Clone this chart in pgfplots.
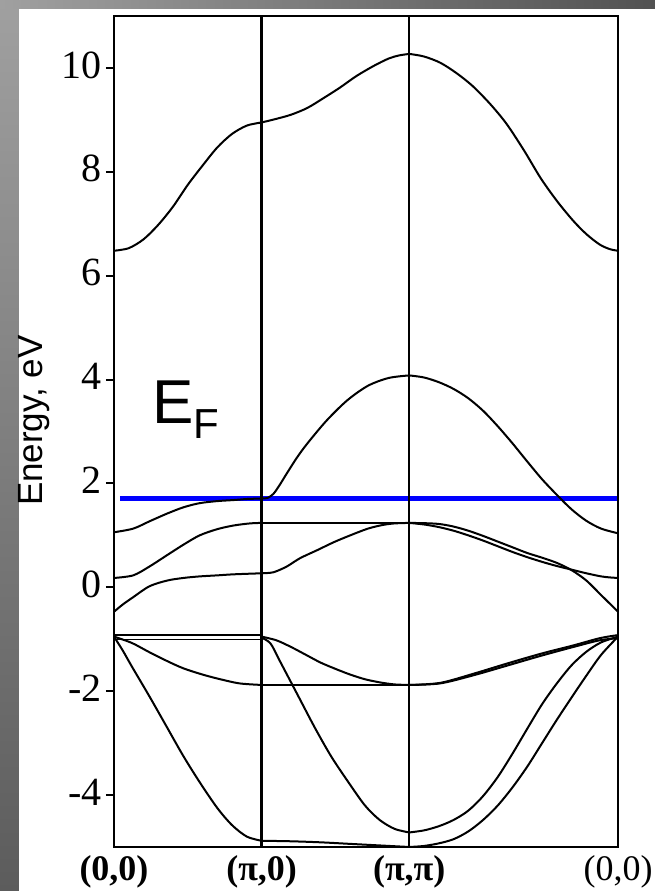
\documentclass[border=0pt]{standalone}
\usepackage{fontspec}
\setmainfont{Liberation Serif}
\newfontfamily\arialfont{Liberation Sans}
\usepackage{pgfplots}
\pgfplotsset{compat=1.18}

\definecolor{bgTL}{RGB}{160,160,160}
\definecolor{bgBL}{RGB}{92,92,92}
\definecolor{bgTR}{RGB}{82,82,82}

\begin{document}
\begin{tikzpicture}
% slide background with gray frame
\fill[white] (-114pt,-44pt) rectangle (541pt,847pt);
\shade[top color=bgTL,bottom color=bgBL] (-114pt,-44pt) rectangle (-95pt,847pt);
\shade[left color=bgTL,right color=bgTR] (-114pt,838.5pt) rectangle (541pt,847pt);

\begin{axis}[
  at={(0pt,0pt)}, anchor=south west,
  scale only axis, width=504pt, height=831pt,
  xmin=0, xmax=3.4142, ymin=-5, ymax=11,
  axis on top,
  axis line style={line width=2.4pt},
  xtick={0,1,2,3.4142},
  xticklabels={{\textbf{(0,0)}},{\textbf{(π,0)}},{\textbf{(π,π)}},{(0,0)}},
  xmajorgrids,
  major x grid style={black,line width=2.4pt},
  x tick style={draw=none},
  ytick={-4,-2,0,2,4,6,8,10},
  yticklabels={{-4},{-2},{0},{2},{4},{6},{8},{10}},
  tick align=outside,
  y tick style={line width=2pt,black},
  major tick length=8pt,
  ytick pos=left, xtick pos=bottom,
  yticklabel style={font=\fontsize{40}{40}\selectfont, inner sep=0pt, xshift=-4pt, yshift=3pt},
  xticklabel style={font=\fontsize{36}{36}\selectfont, inner sep=0pt, yshift=0pt},
  ylabel={Energy, eV},
  ylabel style={font=\arialfont\fontsize{35}{35}\selectfont, at={(axis description cs:-0.159,0.513)}, anchor=center},
  cycle list={{black, mark=none}},
  every axis plot/.append style={black, mark=none, line width=2pt, line join=round, smooth},
]

% Fermi level
\addplot[blue, line width=5pt, sharp plot] coordinates {(0.04,1.715) (3.4142,1.715)};

% upper band
\addplot coordinates {(0,6.48) (0.1,6.53) (0.2,6.7) (0.3,6.98) (0.4,7.33) (0.5,7.75) (0.6,8.12) (0.7,8.47) (0.8,8.73) (0.9,8.89) (1,8.95)};
\addplot coordinates {(1,8.95) (1.1,9.02) (1.2,9.10) (1.31,9.23) (1.42,9.42) (1.53,9.62) (1.64,9.84) (1.76,10.04) (1.86,10.18) (1.93,10.24) (2,10.27)};
\addplot coordinates {(2,10.27) (2.1,10.22) (2.21,10.1) (2.32,9.9) (2.43,9.65) (2.55,9.3) (2.66,8.92) (2.78,8.4) (2.89,7.88) (3.0,7.44) (3.11,7.06) (3.2,6.8) (3.29,6.6) (3.36,6.51) (3.4142,6.48)};

% band crossing the Fermi level
\addplot coordinates {(0,1.06) (0.13,1.13) (0.24,1.27) (0.36,1.42) (0.47,1.54) (0.58,1.62) (0.70,1.66) (0.81,1.68) (0.9,1.70) (1,1.71)};
\addplot coordinates {(1,1.71) (1.04,1.72) (1.08,1.80) (1.12,1.96) (1.17,2.19) (1.24,2.50) (1.31,2.77) (1.44,3.21) (1.58,3.60) (1.72,3.88) (1.86,4.03) (2,4.08)};
\addplot coordinates {(2,4.08) (2.1,4.04) (2.2,3.95) (2.3,3.82) (2.4,3.64) (2.5,3.4) (2.6,3.1) (2.7,2.77) (2.8,2.42) (2.9,2.08) (3.0,1.78) (3.1,1.5) (3.2,1.28) (3.3,1.13) (3.4142,1.04)};

% bands near 1 eV
\addplot coordinates {(0,0.18) (0.13,0.23) (0.24,0.40) (0.36,0.62) (0.47,0.82) (0.58,1.0) (0.70,1.12) (0.81,1.19) (0.92,1.23) (1,1.24)};
\addplot[sharp plot] coordinates {(1,1.24) (2,1.24)};
\addplot coordinates {(2,1.24) (2.1,1.235) (2.2,1.22) (2.3,1.17) (2.4,1.09) (2.5,0.99) (2.6,0.88) (2.7,0.77) (2.8,0.66) (2.9,0.57) (3.0,0.47) (3.1,0.33) (3.2,0.13) (3.3,-0.15) (3.4142,-0.47)};

\addplot coordinates {(0,-0.47) (0.06,-0.33) (0.13,-0.19) (0.24,0.02) (0.36,0.13) (0.47,0.18) (0.58,0.21) (0.70,0.23) (0.81,0.25) (1,0.27)};
\addplot coordinates {(1,0.27) (1.08,0.29) (1.17,0.40) (1.26,0.56) (1.38,0.72) (1.49,0.87) (1.6,1.0) (1.72,1.13) (1.82,1.2) (1.9,1.23) (2,1.24)};
\addplot coordinates {(2,1.24) (2.1,1.21) (2.2,1.16) (2.3,1.09) (2.4,1.0) (2.5,0.9) (2.6,0.79) (2.7,0.68) (2.8,0.58) (2.9,0.49) (3.0,0.41) (3.1,0.34) (3.2,0.27) (3.3,0.21) (3.36,0.19) (3.4142,0.18)};

% lower bands
\addplot[sharp plot] coordinates {(0,-0.92) (1,-0.92)};
\addplot[sharp plot, line width=1.4pt] coordinates {(0,-1.0) (1,-1.0)};
\addplot coordinates {(0,-0.95) (0.12,-1.07) (0.24,-1.25) (0.36,-1.42) (0.47,-1.56) (0.6,-1.68) (0.72,-1.77) (0.85,-1.85) (1,-1.88)};
\addplot[sharp plot, line width=1.4pt] coordinates {(1,-1.88) (2,-1.88)};
\addplot coordinates {(1,-0.95) (1.1,-1.02) (1.2,-1.15) (1.3,-1.3) (1.4,-1.45) (1.5,-1.57) (1.6,-1.68) (1.7,-1.77) (1.8,-1.83) (1.9,-1.87) (2,-1.88)};
\addplot coordinates {(2,-1.88) (2.21,-1.84) (2.44,-1.66) (2.66,-1.47) (2.89,-1.28) (3.11,-1.12) (3.29,-0.98) (3.4142,-0.92)};
\addplot coordinates {(2,-1.88) (2.21,-1.85) (2.44,-1.69) (2.66,-1.51) (2.89,-1.32) (3.11,-1.15) (3.29,-1.02) (3.4142,-0.98)};

\addplot coordinates {(0,-0.95) (0.06,-1.22) (0.12,-1.52) (0.24,-2.1) (0.36,-2.7) (0.47,-3.25) (0.58,-3.75) (0.70,-4.25) (0.80,-4.58) (0.90,-4.8) (1,-4.88)};
\addplot coordinates {(1,-4.88) (1.2,-4.89) (1.4,-4.91) (1.6,-4.94) (1.8,-4.97) (2,-5.0)};
\addplot coordinates {(1,-0.97) (1.06,-1.08) (1.12,-1.4) (1.24,-2.05) (1.36,-2.7) (1.47,-3.25) (1.58,-3.72) (1.70,-4.2) (1.80,-4.48) (1.90,-4.65) (2,-4.72)};
\addplot coordinates {(2,-4.72) (2.1,-4.68) (2.2,-4.6) (2.3,-4.48) (2.4,-4.3) (2.5,-4.02) (2.6,-3.65) (2.7,-3.2) (2.8,-2.72) (2.9,-2.25) (3.0,-1.85) (3.1,-1.5) (3.2,-1.24) (3.3,-1.06) (3.4142,-0.95)};
\addplot coordinates {(2,-5.0) (2.1,-4.98) (2.2,-4.93) (2.3,-4.85) (2.4,-4.7) (2.5,-4.48) (2.6,-4.2) (2.7,-3.85) (2.8,-3.45) (2.9,-3.0) (3.0,-2.55) (3.1,-2.12) (3.2,-1.7) (3.3,-1.3) (3.4142,-0.95)};

% Fermi level label
\node[anchor=base west, inner sep=0pt, font=\arialfont] at (axis cs:0.257,3.16)
  {\fontsize{62}{62}\selectfont E\raisebox{-15pt}{\fontsize{42}{42}\selectfont F}};
\end{axis}

\pgfresetboundingbox
\path[use as bounding box] (-114pt,-44pt) rectangle (541pt,847pt);
\end{tikzpicture}
\end{document}
